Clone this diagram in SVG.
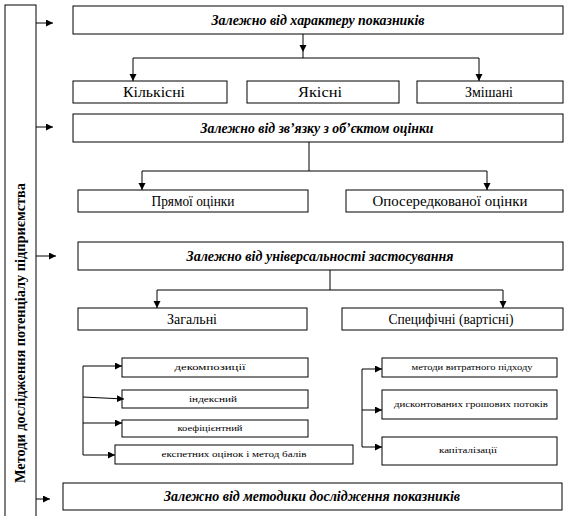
<svg xmlns="http://www.w3.org/2000/svg" width="571" height="516" viewBox="0 0 571 516">
<style>
.box{fill:#fff;stroke:#000;stroke-width:1}
.ln{fill:none;stroke:#000;stroke-width:1}
text{font-family:'Liberation Serif','DejaVu Serif',serif;text-anchor:middle;fill:#000}
.h{font-weight:bold;font-style:italic;font-size:14px}
.t{font-size:14px}
.s{font-size:9px}
.v{font-weight:bold;font-size:14px}
</style>
<defs>
<marker id="a" markerUnits="userSpaceOnUse" markerWidth="8" markerHeight="8" refX="7" refY="3.5" orient="auto"><path d="M0,0 L7,3.5 L0,7 z" fill="#000"/></marker>
</defs>
<rect width="571" height="516" fill="#fff"/>
<g id="root"><rect class="box" x="5" y="5" width="31" height="520"/><text class="v" transform="translate(25,333) rotate(-90)" textLength="300" lengthAdjust="spacingAndGlyphs">Методи дослідження потенціалу підприємства</text></g>
<g id="h1"><rect class="box" x="73" y="6" width="490" height="28"/><text class="h" x="318" y="25" textLength="213" lengthAdjust="spacingAndGlyphs">Залежно від характеру показників</text></g>
<g id="n1"><rect class="box" x="73" y="81" width="154" height="22"/><text class="t" x="154" y="97" textLength="62" lengthAdjust="spacingAndGlyphs">Кількісні</text></g>
<g id="n2"><rect class="box" x="247" y="81" width="152" height="22"/><text class="t" x="320" y="97" textLength="44" lengthAdjust="spacingAndGlyphs">Якісні</text></g>
<g id="n3"><rect class="box" x="417" y="81" width="146" height="22"/><text class="t" x="489" y="97" textLength="48" lengthAdjust="spacingAndGlyphs">Змішані</text></g>
<g id="h2"><rect class="box" x="73" y="114" width="490" height="28"/><text class="h" x="317" y="133" textLength="233" lengthAdjust="spacingAndGlyphs">Залежно від зв’язку з об’єктом оцінки</text></g>
<g id="n4"><rect class="box" x="78" y="190" width="230" height="22"/><text class="t" x="193" y="206" textLength="83" lengthAdjust="spacingAndGlyphs">Прямої оцінки</text></g>
<g id="n5"><rect class="box" x="346" y="190" width="217" height="22"/><text class="t" x="450" y="206" textLength="155" lengthAdjust="spacingAndGlyphs">Опосередкованої оцінки</text></g>
<g id="h3"><rect class="box" x="78" y="242" width="485" height="28"/><text class="h" x="320" y="261">Залежно від універсальності застосування</text></g>
<g id="n6"><rect class="box" x="78" y="308" width="229" height="22"/><text class="t" x="192" y="324" textLength="50" lengthAdjust="spacingAndGlyphs">Загальні</text></g>
<g id="n7"><rect class="box" x="342" y="308" width="221" height="22"/><text class="t" x="451" y="324" textLength="125" lengthAdjust="spacingAndGlyphs">Специфічні (вартісні)</text></g>
<g id="m1"><rect class="box" x="122" y="358" width="186" height="19"/><text class="s" x="210" y="370" textLength="71" lengthAdjust="spacingAndGlyphs">декомпозиції</text></g>
<g id="m2"><rect class="box" x="122" y="390" width="186" height="18"/><text class="s" x="213" y="402" textLength="48" lengthAdjust="spacingAndGlyphs">індексний</text></g>
<g id="m3"><rect class="box" x="122" y="420" width="186" height="17"/><text class="s" x="210" y="431" textLength="65" lengthAdjust="spacingAndGlyphs">коефіцієнтний</text></g>
<g id="m4"><rect class="box" x="115" y="445" width="238" height="19"/><text class="s" x="234" y="457" textLength="145" lengthAdjust="spacingAndGlyphs">експетних оцінок і метод балів</text></g>
<g id="r1"><rect class="box" x="382" y="358" width="175" height="19"/><text class="s" x="472" y="370" textLength="121" lengthAdjust="spacingAndGlyphs">методи витратного підходу</text></g>
<g id="r2"><rect class="box" x="382" y="390" width="175" height="29"/><text class="s" x="471" y="407" textLength="154" lengthAdjust="spacingAndGlyphs">дисконтованих грошових потоків</text></g>
<g id="r3"><rect class="box" x="382" y="437" width="175" height="28"/><text class="s" x="468" y="453" textLength="58" lengthAdjust="spacingAndGlyphs">капіталізації</text></g>
<g id="h4"><rect class="box" x="63" y="483" width="499" height="27"/><text class="h" x="312" y="501">Залежно від методики дослідження показників</text></g>
<g id="connectors">
<path class="ln" d="M36,23 H53" marker-end="url(#a)"/>
<path class="ln" d="M36,127 H53" marker-end="url(#a)"/>
<path class="ln" d="M36,256 H56" marker-end="url(#a)"/>
<path class="ln" d="M36,499 H50" marker-end="url(#a)"/>
<path class="ln" d="M303,34 V52" marker-end="url(#a)"/>
<path class="ln" d="M303,52 V58 M133,58 H479"/>
<path class="ln" d="M133,58 V81" marker-end="url(#a)"/>
<path class="ln" d="M479,58 V81" marker-end="url(#a)"/>
<path class="ln" d="M309,142 V171 M142,171 H487"/>
<path class="ln" d="M142,171 V190" marker-end="url(#a)"/>
<path class="ln" d="M487,171 V190" marker-end="url(#a)"/>
<path class="ln" d="M330,270 V290 M157,290 H503"/>
<path class="ln" d="M157,290 V308" marker-end="url(#a)"/>
<path class="ln" d="M503,290 V308" marker-end="url(#a)"/>
<path class="ln" d="M83,366 V455"/>
<path class="ln" d="M83,366 H122" marker-end="url(#a)"/>
<path class="ln" d="M83,397 L124,399" marker-end="url(#a)"/>
<path class="ln" d="M83,423 H122" marker-end="url(#a)"/>
<path class="ln" d="M83,455 H115" marker-end="url(#a)"/>
<path class="ln" d="M362,369 V447"/>
<path class="ln" d="M362,369 H382" marker-end="url(#a)"/>
<path class="ln" d="M362,410 H382" marker-end="url(#a)"/>
<path class="ln" d="M362,447 H382" marker-end="url(#a)"/>
</g>
</svg>
